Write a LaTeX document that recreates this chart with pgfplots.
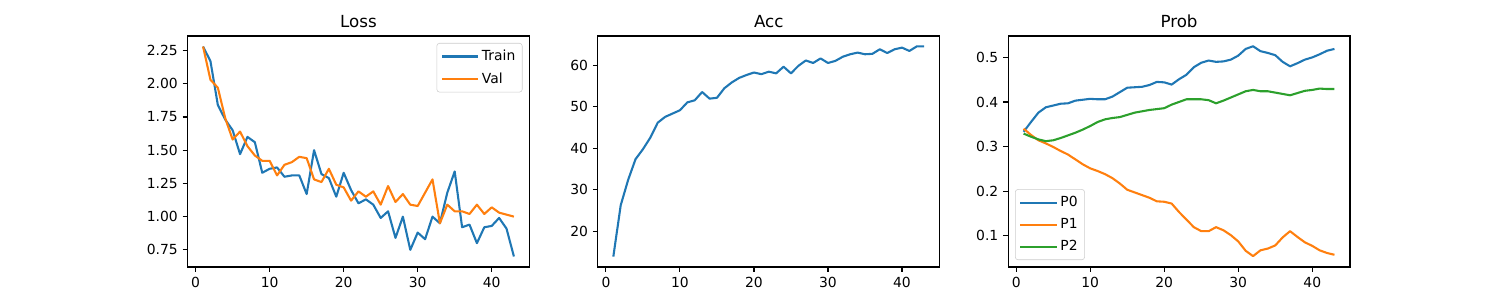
\documentclass[border=0pt]{standalone}
\usepackage{fontspec}
\setmainfont{DejaVu Sans}
\usepackage{pgfplots}
\pgfplotsset{compat=1.18}
\definecolor{C0}{HTML}{1F77B4}
\definecolor{C1}{HTML}{FF7F0E}
\definecolor{C2}{HTML}{2CA02C}
\pgfplotsset{
  mpl/.style={
    anchor=south west, scale only axis,
    width=246.2pt, height=166.3pt,
    xmin=-1.1, xmax=45.1,
    xtick={0,10,20,30,40},
    tick align=outside, xtick pos=bottom, ytick pos=left,
    major tick length=3.5pt,
    every tick/.style={black, line width=0.8pt},
    axis line style={line width=0.8pt},
    tick label style={font=\fontsize{10}{12}\selectfont},
    /pgf/number format/assume math mode=true,
    title style={font=\fontsize{12}{14}\selectfont, yshift=-3.5pt},
    legend style={draw=black!20, rounded corners=2pt, font=\fontsize{10}{12}\selectfont, inner sep=3pt, row sep=3pt},
    legend cell align=left,
    legend image code/.code={\path (0pt,0pt) -- (26pt,0pt); \draw[#1, line width=1.5pt] (0pt,0pt) -- (20pt,0pt);},
    every axis plot/.append style={line width=1.5pt, line join=round},
  }
}
\begin{document}
\begin{tikzpicture}[x=1pt,y=1pt]
\path[use as bounding box] (0,0) rectangle (1080,216);
% Loss
\begin{axis}[mpl, at={(135pt,23.76pt)}, title={Loss},
  ymin=0.621, ymax=2.359,
  ytick={0.75,1.00,1.25,1.50,1.75,2.00,2.25},
  yticklabel style={/pgf/number format/.cd, fixed, fixed zerofill, precision=2},
  legend style={at={(1,1)}, anchor=north east, xshift=-5pt, yshift=-5pt}]
\addplot[C0] coordinates {
(1,2.28)(2,2.17)(3,1.84)(4,1.73)(5,1.65)(6,1.47)(7,1.60)(8,1.56)(9,1.33)(10,1.36)
(11,1.37)(12,1.30)(13,1.31)(14,1.31)(15,1.17)(16,1.50)(17,1.32)(18,1.29)(19,1.15)(20,1.33)
(21,1.20)(22,1.10)(23,1.13)(24,1.09)(25,0.99)(26,1.04)(27,0.84)(28,1.00)(29,0.75)(30,0.88)
(31,0.83)(32,1.00)(33,0.95)(34,1.18)(35,1.34)(36,0.92)(37,0.94)(38,0.80)(39,0.92)(40,0.93)
(41,0.99)(42,0.91)(43,0.70)};
\addlegendentry{Train}
\addplot[C1] coordinates {
(1,2.28)(2,2.03)(3,1.97)(4,1.74)(5,1.58)(6,1.64)(7,1.53)(8,1.46)(9,1.42)(10,1.42)
(11,1.31)(12,1.39)(13,1.41)(14,1.45)(15,1.44)(16,1.28)(17,1.26)(18,1.36)(19,1.24)(20,1.22)
(21,1.12)(22,1.19)(23,1.15)(24,1.19)(25,1.09)(26,1.23)(27,1.11)(28,1.17)(29,1.09)(30,1.08)
(31,1.18)(32,1.28)(33,0.95)(34,1.09)(35,1.04)(36,1.04)(37,1.02)(38,1.09)(39,1.02)(40,1.07)
(41,1.03)(42,1.015)(43,1.00)};
\addlegendentry{Val}
\end{axis}
% Acc
\begin{axis}[mpl, at={(430.4pt,23.76pt)}, title={Acc},
  ymin=11.4, ymax=67.1, ytick={20,30,40,50,60}]
\addplot[C0] coordinates {
(1,13.9)(2,26.3)(3,32.4)(4,37.4)(5,39.8)(6,42.6)(7,46.2)(8,47.6)(9,48.4)(10,49.2)
(11,51.1)(12,51.6)(13,53.6)(14,52.0)(15,52.2)(16,54.5)(17,55.9)(18,57.0)(19,57.7)(20,58.3)
(21,57.9)(22,58.5)(23,58.1)(24,59.7)(25,58.1)(26,59.9)(27,61.2)(28,60.6)(29,61.7)(30,60.6)
(31,61.1)(32,62.1)(33,62.7)(34,63.1)(35,62.7)(36,62.8)(37,63.9)(38,63.0)(39,63.9)(40,64.3)
(41,63.5)(42,64.6)(43,64.6)};
\end{axis}
% Prob
\begin{axis}[mpl, at={(725.8pt,23.76pt)}, title={Prob},
  ymin=0.0296, ymax=0.548, ytick={0.1,0.2,0.3,0.4,0.5},
  yticklabel style={/pgf/number format/.cd, fixed, fixed zerofill, precision=1},
  legend style={at={(0,0)}, anchor=south west, xshift=5pt, yshift=5pt}]
\addplot[C0] coordinates {
(1,0.333)(2,0.355)(3,0.376)(4,0.388)(5,0.392)(6,0.396)(7,0.397)(8,0.403)(9,0.405)(10,0.407)
(11,0.406)(12,0.406)(13,0.412)(14,0.422)(15,0.432)(16,0.433)(17,0.434)(18,0.438)(19,0.445)(20,0.444)
(21,0.439)(22,0.451)(23,0.461)(24,0.478)(25,0.488)(26,0.493)(27,0.490)(28,0.491)(29,0.495)(30,0.504)
(31,0.519)(32,0.525)(33,0.514)(34,0.510)(35,0.505)(36,0.490)(37,0.480)(38,0.487)(39,0.495)(40,0.500)
(41,0.507)(42,0.515)(43,0.519)};
\addlegendentry{P0}
\addplot[C1] coordinates {
(1,0.340)(2,0.326)(3,0.314)(4,0.307)(5,0.299)(6,0.290)(7,0.282)(8,0.271)(9,0.260)(10,0.251)
(11,0.245)(12,0.238)(13,0.229)(14,0.217)(15,0.203)(16,0.197)(17,0.191)(18,0.185)(19,0.177)(20,0.176)
(21,0.172)(22,0.153)(23,0.136)(24,0.119)(25,0.110)(26,0.110)(27,0.119)(28,0.112)(29,0.101)(30,0.087)
(31,0.066)(32,0.054)(33,0.067)(34,0.071)(35,0.078)(36,0.096)(37,0.110)(38,0.097)(39,0.085)(40,0.077)
(41,0.067)(42,0.061)(43,0.057)};
\addlegendentry{P1}
\addplot[C2] coordinates {
(1,0.329)(2,0.322)(3,0.316)(4,0.312)(5,0.314)(6,0.319)(7,0.325)(8,0.331)(9,0.338)(10,0.346)
(11,0.355)(12,0.361)(13,0.364)(14,0.366)(15,0.371)(16,0.376)(17,0.379)(18,0.382)(19,0.384)(20,0.386)
(21,0.394)(22,0.400)(23,0.406)(24,0.406)(25,0.406)(26,0.404)(27,0.397)(28,0.403)(29,0.410)(30,0.417)
(31,0.424)(32,0.427)(33,0.424)(34,0.424)(35,0.421)(36,0.418)(37,0.415)(38,0.420)(39,0.425)(40,0.427)
(41,0.430)(42,0.429)(43,0.429)};
\addlegendentry{P2}
\end{axis}
\end{tikzpicture}
\end{document}
